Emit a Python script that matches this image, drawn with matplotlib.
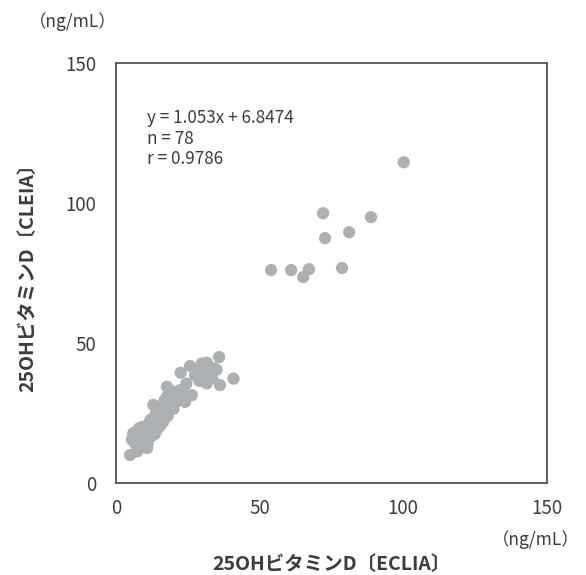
import matplotlib
matplotlib.use('Agg')
import matplotlib.pyplot as plt

plt.rcParams['font.family'] = ['Noto Sans CJK JP', 'DejaVu Sans']

eclia_high = [100.2, 72.1, 88.8, 81.2, 72.8, 54.0, 61.0, 67.2, 65.2, 78.7]
cleia_high = [114.6, 96.4, 95.0, 89.6, 87.5, 76.1, 76.1, 76.4, 73.6, 76.8]

eclia_low = [35.9, 40.9, 36.2, 31.6, 32.8, 29.9, 31.6, 25.8, 22.5, 34.0,
             30.7, 26.4, 22.3, 17.7, 21.1, 17.7, 18.8, 16.9, 13.0, 17.5,
             15.7, 13.0, 15.3, 14.4, 11.4, 10.8, 8.7, 12.3, 8.1, 10.8,
             4.9, 7.4, 6.0, 9.0, 9.5, 7.3, 12.5, 14.0, 15.3, 17.8,
             19.5, 20.5, 23.5, 24.0, 28.5, 33.5, 31.0, 35.0, 19.0, 16.0,
             11.5, 10.0, 6.5, 5.5, 12.0, 14.5, 18.0, 20.0, 27.5, 24.5,
             8.0, 9.8, 13.5, 16.5, 21.5, 29.0, 33.0, 11.0]
cleia_low = [45.0, 37.3, 35.0, 35.6, 39.3, 42.7, 43.0, 41.8, 39.4, 41.0,
             38.0, 31.4, 33.2, 34.4, 30.5, 30.8, 27.3, 29.5, 27.9, 25.7,
             23.3, 23.3, 20.4, 19.2, 19.2, 16.2, 16.7, 16.7, 13.7, 12.5,
             10.0, 11.3, 17.8, 20.0, 15.4, 12.9, 19.0, 25.0, 25.0, 29.6,
             31.5, 28.5, 32.0, 29.0, 40.0, 37.5, 42.0, 40.5, 33.0, 27.0,
             21.5, 18.0, 14.5, 15.5, 22.5, 21.0, 24.0, 26.5, 38.5, 35.5,
             19.5, 13.0, 17.5, 22.0, 30.0, 36.5, 38.0, 14.0]

stats_lines = ['y = 1.053x + 6.8474', 'n = 78', 'r = 0.9786']
ticks = [0, 50, 100, 150]
x_label = '25OHビタミンD〔ECLIA〕'
y_label = '25OHビタミンD〔CLEIA〕'
unit = '（ng/mL）'

text_color = '#3c3c3c'
dot_color = '#adb0b2'

fig = plt.figure(figsize=(5.86, 5.75), dpi=100)
ax = fig.add_axes([0.198, 0.16, 0.735, 0.73])

ax.scatter(eclia_low + eclia_high, cleia_low + cleia_high, s=78,
           color=dot_color, edgecolors='none', zorder=3)

ax.set_xlim(0, 150)
ax.set_ylim(0, 150)
ax.set_xticks(ticks)
ax.set_yticks(ticks)
ax.tick_params(length=0, labelsize=13.5, labelcolor=text_color)
ax.tick_params(axis='x', pad=11)
ax.tick_params(axis='y', pad=14)
for spine in ax.spines.values():
    spine.set_color('#555555')
    spine.set_linewidth(1.3)

ax.text(0.072, 0.89, '\n'.join(stats_lines), transform=ax.transAxes,
        fontsize=12.3, color=text_color, va='top', ha='left', linespacing=1.15)

ax.set_xlabel(x_label, fontsize=14, color=text_color, fontweight='bold',
              labelpad=26)
ax.set_ylabel(y_label, fontsize=14, color=text_color, fontweight='bold',
              labelpad=20)

fig.text(0.125, 0.962, unit, fontsize=12.5, color=text_color,
         ha='center', va='center')
fig.text(0.99, 0.062, unit, fontsize=12.5, color=text_color,
         ha='right', va='center')

fig.savefig('out.png', dpi=100)
